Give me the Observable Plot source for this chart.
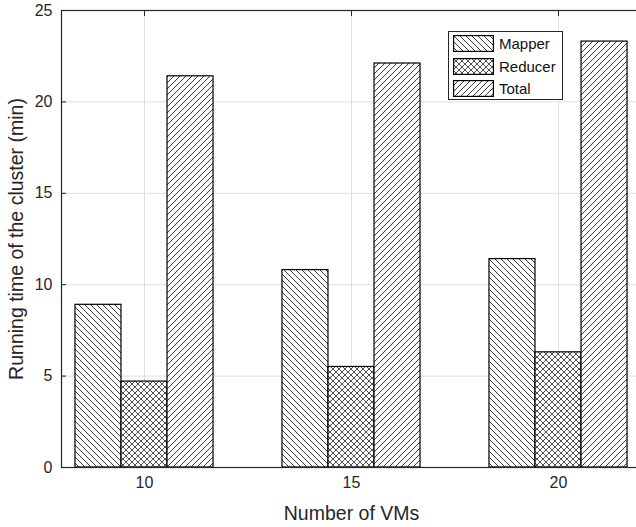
<!DOCTYPE html>
<html>
<head>
<meta charset="utf-8">
<script src="https://cdn.jsdelivr.net/npm/d3@7"></script>
<script src="https://cdn.jsdelivr.net/npm/@observablehq/plot@0.6"></script>
<style>
  html, body { margin: 0; padding: 0; background: #fff; overflow: hidden; }
  #wrap { position: relative; width: 636px; height: 527px; }
  svg { font-family: "Liberation Sans", Arial, Helvetica, sans-serif; }
  g[aria-label="x-axis label"], g[aria-label="y-axis label"] { font-size: 19.5px; }
  #legend {
    position: absolute; left: 448px; top: 31px; width: 113px; height: 67px;
    border: 1px solid #262626; background: #fff;
    font-family: "Liberation Sans", Arial, Helvetica, sans-serif; font-size: 15px; color: #111;
  }
  #legend .row { position: absolute; left: 4px; height: 17px; display: flex; align-items: center; }
  #legend .row svg { display: block; margin-right: 5px; }
</style>
</head>
<body>
<div id="wrap"></div>
<script>
// ---- data ----
const vms = [10, 15, 20];
const series = ["Mapper", "Reducer", "Total"];
const mapper = [8.9, 10.8, 11.4];
const reducer = [4.7, 5.5, 6.3];
const total = [21.4, 22.1, 23.3];
const yTicks = [0, 5, 10, 15, 20, 25];
const xLabel = "Number of VMs";
const yLabel = "Running time of the cluster (min)";

const valuesBySeries = {Mapper: mapper, Reducer: reducer, Total: total};
const data = vms.flatMap((v, i) => series.map(s => ({vms: v, series: s, value: valuesBySeries[s][i]})));
const patternIds = {Mapper: "hatch-mapper", Reducer: "hatch-reducer", Total: "hatch-total"};

// layout
const W = 636, H = 527, mL = 61, mR = -5, mT = 10, mB = 60;
const padIn = 1 - 1 / 4.5, padOut = 0.2891;
const step = (W - mL - mR) / (vms.length - padIn + 2 * padOut);
const barW = step * (1 - padIn);

const defs = `
<defs>
  <pattern id="hatch-mapper" patternUnits="userSpaceOnUse" width="6" height="6">
    <rect width="6" height="6" fill="#fff"/>
    <path d="M-1,-1 L7,7 M-1,5 L1,7 M5,-1 L7,1" stroke="#222" stroke-width="0.9"/>
  </pattern>
  <pattern id="hatch-total" patternUnits="userSpaceOnUse" width="6" height="6">
    <rect width="6" height="6" fill="#fff"/>
    <path d="M-1,7 L7,-1 M-1,1 L1,-1 M5,7 L7,5" stroke="#222" stroke-width="0.9"/>
  </pattern>
  <pattern id="hatch-reducer" patternUnits="userSpaceOnUse" width="6" height="6">
    <rect width="6" height="6" fill="#fff"/>
    <path d="M-1,-1 L7,7 M-1,5 L1,7 M5,-1 L7,1 M-1,7 L7,-1 M-1,1 L1,-1 M5,7 L7,5" stroke="#222" stroke-width="0.8"/>
  </pattern>
</defs>`;

const chart = Plot.plot({
  width: W,
  height: H,
  marginLeft: mL,
  marginRight: mR,
  marginTop: mT,
  marginBottom: mB,
  style: {fontSize: "16px", color: "#262626", background: "#fff"},
  x: {domain: vms, paddingInner: padIn, paddingOuter: padOut, label: xLabel},
  y: {domain: [0, 25], ticks: yTicks, label: yLabel},
  color: {domain: series, range: series.map(s => `url(#${patternIds[s]})`)},
  marks: [
    Plot.gridY({ticks: yTicks.slice(1, -1), stroke: "#dfdfdf", strokeOpacity: 1}),
    Plot.gridX({stroke: "#dfdfdf", strokeOpacity: 1}),
    ...series.map((s, i) =>
      Plot.barY(data.filter(d => d.series === s), {
        x: "vms", y: "value", fill: "series", dx: (i - 1) * barW,
        stroke: "#000", strokeWidth: 1.2
      })
    ),
    Plot.frame({stroke: "#262626", strokeWidth: 1.2}),
    Plot.axisY({ticks: yTicks, tickSize: 5, dx: 5, tickFormat: () => "", label: null}),
    Plot.axisY({ticks: yTicks, tickSize: 0, tickPadding: 9, label: yLabel,
                labelAnchor: "center", labelArrow: "none", labelOffset: 52, fill: "#262626"}),
    Plot.axisX({anchor: "top", tickSize: 5, dy: 5, tickFormat: () => "", label: null}),
    Plot.axisX({anchor: "bottom", tickSize: 0, tickPadding: 9, label: xLabel,
                labelAnchor: "center", labelArrow: "none", labelOffset: 52, fill: "#262626"})
  ]
});

chart.insertAdjacentHTML("afterbegin", defs);
const wrap = document.getElementById("wrap");
wrap.appendChild(chart);

// legend
const legend = document.createElement("div");
legend.id = "legend";
series.forEach((s, i) => {
  const row = document.createElement("div");
  row.className = "row";
  row.style.top = (3 + i * 22.5) + "px";
  row.innerHTML = `<svg width="41" height="17"><rect x="0.6" y="0.6" width="39.8" height="15.8" fill="url(#${patternIds[s]})" stroke="#000" stroke-width="1.2"/></svg><span>${s}</span>`;
  legend.appendChild(row);
});
wrap.appendChild(legend);
</script>
</body>
</html>
